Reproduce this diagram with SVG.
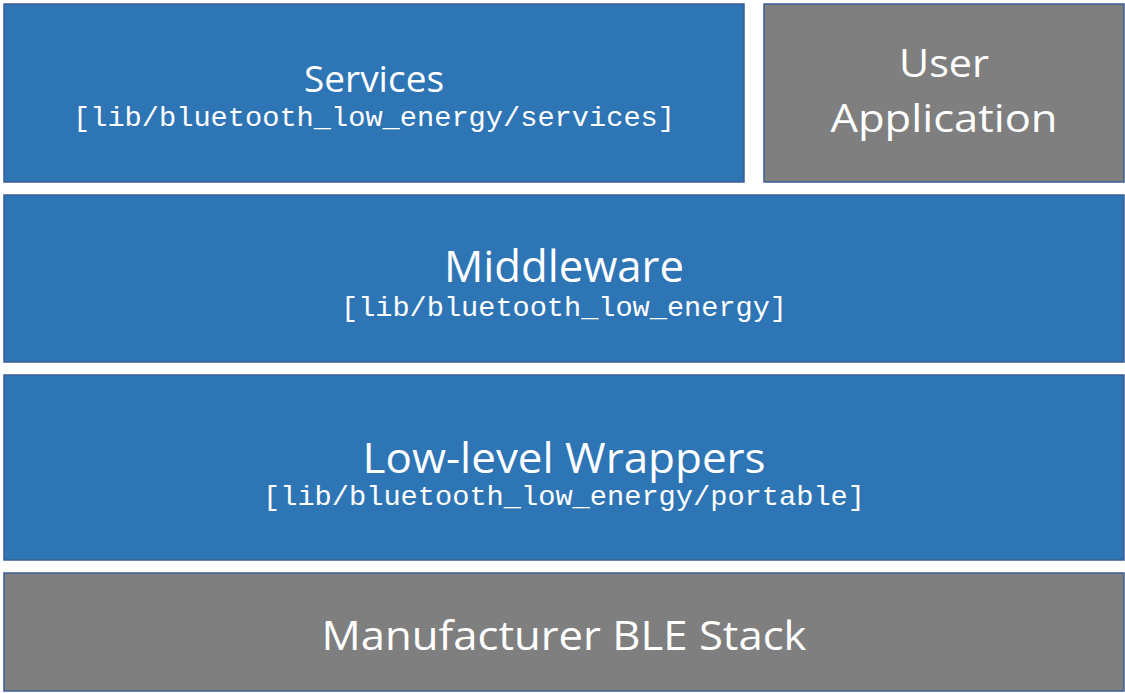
<svg xmlns="http://www.w3.org/2000/svg" width="1125" height="693" viewBox="0 0 1125 693">
  <style>
    .blue { fill: #2E75B6; stroke: #3B5E91; stroke-width: 1.5; }
    .gray { fill: #7F7F7F; stroke: #3B5E91; stroke-width: 1.5; }
    .title { font-family: "Open Sans", "Noto Sans", sans-serif; fill: #FFFFFF; text-anchor: middle; }
    .path { font-family: "Liberation Mono", "DejaVu Sans Mono", monospace; fill: #FFFFFF; text-anchor: middle; font-size: 28px; }
  </style>
  <rect width="1125" height="693" fill="#FFFFFF"/>
  <g id="services">
    <rect class="blue" x="4" y="4" width="740" height="178"/>
    <text class="title" x="374" y="92" font-size="36" textLength="140" lengthAdjust="spacingAndGlyphs">Services</text>
    <text class="path" x="374" y="126" textLength="602" lengthAdjust="spacingAndGlyphs">[lib/bluetooth_low_energy/services]</text>
  </g>
  <g id="user-application">
    <rect class="gray" x="764" y="4" width="360" height="178"/>
    <text class="title" x="944" y="77" font-size="39" textLength="90" lengthAdjust="spacingAndGlyphs">User</text>
    <text class="title" x="944" y="132" font-size="39" textLength="227" lengthAdjust="spacingAndGlyphs">Application</text>
  </g>
  <g id="middleware">
    <rect class="blue" x="4" y="195" width="1120" height="167"/>
    <text class="title" x="564" y="282" font-size="44" textLength="240" lengthAdjust="spacingAndGlyphs">Middleware</text>
    <text class="path" x="564" y="316" textLength="446" lengthAdjust="spacingAndGlyphs">[lib/bluetooth_low_energy]</text>
  </g>
  <g id="low-level-wrappers">
    <rect class="blue" x="4" y="375" width="1120" height="185"/>
    <text class="title" x="564" y="473" font-size="42" textLength="403" lengthAdjust="spacingAndGlyphs">Low-level Wrappers</text>
    <text class="path" x="564" y="505" textLength="602" lengthAdjust="spacingAndGlyphs">[lib/bluetooth_low_energy/portable]</text>
  </g>
  <g id="manufacturer-ble-stack">
    <rect class="gray" x="4" y="573" width="1120" height="118"/>
    <text class="title" x="564" y="650" font-size="41" textLength="485" lengthAdjust="spacingAndGlyphs">Manufacturer BLE Stack</text>
  </g>
  <g id="connectors"></g>
</svg>
